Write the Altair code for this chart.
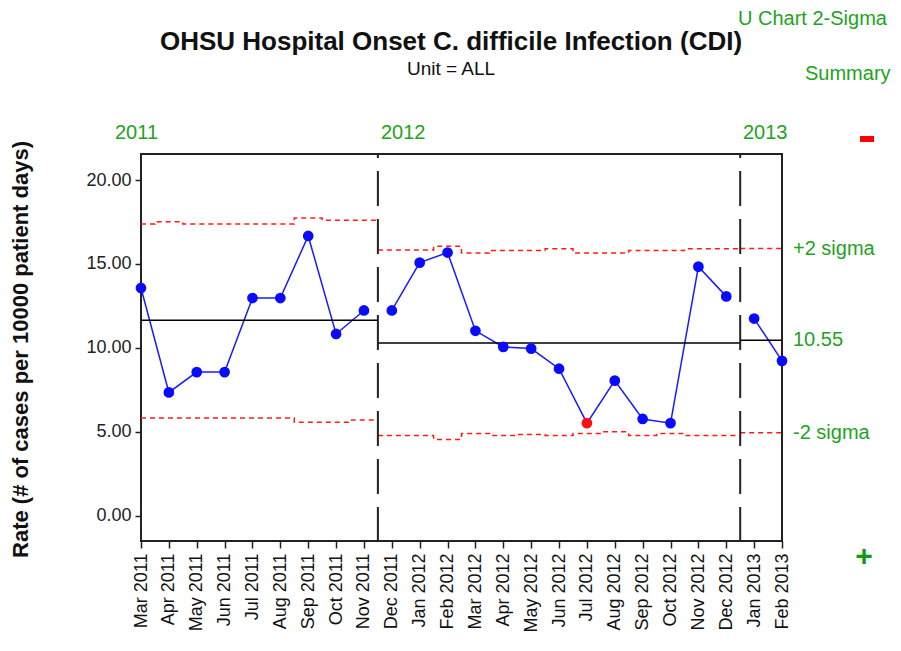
import json
import altair as alt
import pandas as pd

# ---------------- data ----------------
months = ["Mar 2011", "Apr 2011", "May 2011", "Jun 2011", "Jul 2011", "Aug 2011",
          "Sep 2011", "Oct 2011", "Nov 2011", "Dec 2011", "Jan 2012", "Feb 2012",
          "Mar 2012", "Apr 2012", "May 2012", "Jun 2012", "Jul 2012", "Aug 2012",
          "Sep 2012", "Oct 2012", "Nov 2012", "Dec 2012", "Jan 2013", "Feb 2013"]
rates = [13.57, 7.35, 8.56, 8.56, 12.97, 12.97, 16.67, 10.83, 12.23,
         12.23, 15.08, 15.68, 11.02, 10.06, 9.96, 8.76, 5.52, 8.05, 5.77, 5.52, 14.84, 13.07,
         11.75, 9.23]
ucl = [17.38, 17.52, 17.38, 17.38, 17.38, 17.38, 17.74, 17.60, 17.60,
       15.83, 15.83, 16.05, 15.65, 15.80, 15.80, 15.90, 15.65, 15.65, 15.80, 15.80, 15.90, 15.90,
       15.92, 15.92]
lcl = [5.83, 5.83, 5.83, 5.83, 5.83, 5.83, 5.58, 5.58, 5.70,
       4.78, 4.78, 4.55, 4.90, 4.78, 4.85, 4.78, 4.90, 5.00, 4.78, 4.90, 4.78, 4.78,
       4.95, 4.95]
period = ["2011"] * 9 + ["2012"] * 13 + ["2013"] * 2
center = {"2011": 11.65, "2012": 10.30, "2013": 10.45}
signal = [0] * 16 + [1] + [0] * 7
right_labels = ["+2 sigma", "10.55", "-2 sigma"]

# ---------------- tables ----------------
n = len(months)
df = pd.DataFrame({"i": range(n), "month": months, "rate": rates, "ucl": ucl,
                   "lcl": lcl, "period": period, "signal": signal})

lim_rows, ctr_rows, div_rows = [], [], []
for p in center:
    ids = [k for k in range(n) if period[k] == p]
    a, b = ids[0], ids[-1]
    start = a - 0.5 if a > 0 else a
    end = b + 0.5 if b < n - 1 else b
    lim_rows.append({"x": start, "ucl": ucl[a], "lcl": lcl[a], "period": p})
    for k in ids:
        lim_rows.append({"x": k, "ucl": ucl[k], "lcl": lcl[k], "period": p})
    lim_rows.append({"x": end, "ucl": ucl[b], "lcl": lcl[b], "period": p})
    ctr_rows.append({"x": start, "x2": end, "c": center[p], "period": p})
    if a > 0:
        div_rows.append({"x": start})
lim = pd.DataFrame(lim_rows)
ctr = pd.DataFrame(ctr_rows)
div = pd.DataFrame(div_rows)
last = ctr_rows[-1]
rl = pd.DataFrame({"t": right_labels, "v": [ucl[-1], last["c"], lcl[-1]]})

FONT = "Liberation Sans"
GREEN = "#22a322"

xscale = alt.Scale(domain=[0, n - 1], nice=False, zero=False)
yscale = alt.Scale(domain=[-1.5, 21.55], nice=False, zero=False)
label_expr = json.dumps(months) + "[datum.value]"

xaxis = alt.Axis(
    values=list(range(n)), labelExpr=label_expr, labelAngle=270, labelFont=FONT,
    labelFontSize=18, labelColor="#111", tickSize=7, tickColor="#222", tickWidth=1.5,
    labelPadding=5, domain=False, grid=False, title=None, labelOverlap=False,
    labelBound=False, labelFlush=False)
yaxis = alt.Axis(
    values=[0, 5, 10, 15, 20], format=".2f", labelFont=FONT, labelFontSize=18,
    labelColor="#222", tickSize=6, tickColor="#222", tickWidth=1.5, labelPadding=4,
    domain=False, grid=False, title="Rate (# of cases per 10000 patient days)",
    titleFont=FONT, titleFontSize=22, titleFontWeight="bold", titleColor="#111",
    titleAngle=270, titleX=-121, titleY=195, titleAlign="center",
    titleBaseline="middle")


def X(field):
    return alt.X(field, scale=xscale, axis=xaxis)


def Y(field):
    return alt.Y(field, scale=yscale, axis=yaxis)


base = alt.Chart(df)

line = base.mark_line(color="#1a1aff", strokeWidth=1.5).encode(
    x=X("i:Q"), y=Y("rate:Q"), detail="period:N")
pts = base.mark_point(filled=True, opacity=1, size=115).encode(
    x=X("i:Q"), y=Y("rate:Q"),
    color=alt.Color("signal:N", scale=alt.Scale(domain=[0, 1], range=["#0a0aff", "#ff1010"]),
                    legend=None))

ucl_line = alt.Chart(lim).mark_line(interpolate="step", color="#ff1a1a", strokeWidth=1.5,
                                    strokeDash=[5, 4]).encode(
    x=X("x:Q"), y=Y("ucl:Q"), detail="period:N")
lcl_line = alt.Chart(lim).mark_line(interpolate="step", color="#ff1a1a", strokeWidth=1.5,
                                    strokeDash=[5, 4]).encode(
    x=X("x:Q"), y=Y("lcl:Q"), detail="period:N")

ctr_rule = alt.Chart(ctr).mark_rule(color="black", strokeWidth=1.5).encode(
    x=X("x:Q"), x2="x2:Q", y=Y("c:Q"))

div_rule = alt.Chart(div).mark_rule(color="#222", strokeWidth=2, strokeDash=[35, 13],
                                    strokeDashOffset=31).encode(x=X("x:Q"))


def txt(text, x, y, size, color="black", weight="normal", align="left",
        font=FONT, baseline="alphabetic"):
    return alt.Chart(alt.Data(values=[{"t": text}])).mark_text(
        align=align, baseline=baseline, font=font, fontSize=size, fontWeight=weight,
        color=color).encode(x=alt.value(x), y=alt.value(y), text="t:N")


annots = [
    txt("OHSU Hospital Onset C. difficile Infection (CDI)", 310, -104, 26,
        color="#111", weight="bold", align="center"),
    txt("Unit = ALL", 310, -79, 19, color="#111", align="center"),
    txt("U Chart 2-Sigma", 597, -129, 20, color=GREEN),
    txt("Summary", 664, -74, 20, color=GREEN),
    txt("2011", -26, -15, 20, color=GREEN),
    txt("2012", 240, -15, 20, color=GREEN),
    txt("2013", 602, -15, 20, color=GREEN),
    txt("+", 723, 412, 30, color="#119911", weight="bold", align="center"),
]

minus = alt.Chart(alt.Data(values=[{"a": 1}])).mark_rule(color="#ff0000", strokeWidth=6).encode(
    x=alt.value(719), x2=alt.value(733), y=alt.value(-15))

right = alt.Chart(rl).mark_text(align="left", baseline="middle", font=FONT, fontSize=20,
                                color=GREEN).encode(
    x=alt.value(652), y=Y("v:Q"), text="t:N")

chart = alt.layer(
    line, ucl_line, lcl_line, ctr_rule, div_rule, pts, right, minus, *annots
).properties(
    width=641, height=387,
    background="white",
    autosize=alt.AutoSizeParams(type="none"),
    padding={"left": 133, "top": 146, "right": 111, "bottom": 95},
).configure_view(stroke="#222", strokeWidth=2, strokeOpacity=1)

chart.save("out.html", embed_options={"renderer": "svg", "actions": False})
